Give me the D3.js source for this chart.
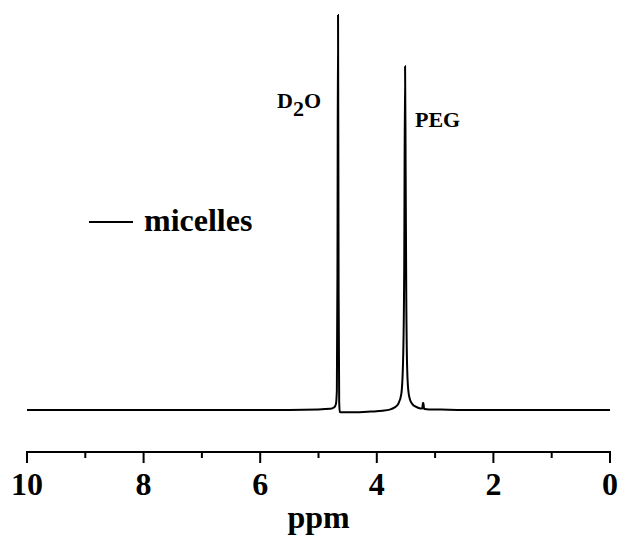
<!DOCTYPE html>
<html>
<head>
<meta charset="utf-8">
<script src="https://cdn.jsdelivr.net/npm/d3@7"></script>
<style>
  body { margin: 0; background: #fff; }
  text { font-family: "Liberation Serif", "Times New Roman", serif; font-weight: bold; fill: #000; }
</style>
</head>
<body>
<div id="chart"></div>
<script>
// chemical shift (ppm) and intensity
const ppm = [10, 6, 5.0, 4.8, 4.73, 4.7, 4.685, 4.675, 4.665, 4.655, 4.645, 4.635, 4.6, 4.4, 4.1, 3.9, 3.78, 3.7, 3.63, 3.58, 3.55, 3.53, 3.515, 3.505, 3.495, 3.48, 3.46, 3.43, 3.39, 3.34, 3.28, 3.22, 3.21, 3.2, 3.19, 3.18, 3.1, 2.9, 2.5, 0];
const intensity = [0, 0, 0.15, 0.3, 0.7, 1.6, 5, 35, 100, 30, 2, -0.5, -0.6, -0.6, -0.4, -0.2, 0.1, 0.6, 1.6, 4, 12, 35, 87, 60, 30, 11, 5, 2.6, 1.5, 0.9, 0.5, 0.35, 1.8, 1.8, 0.35, 0.25, 0.15, 0.1, 0, 0];
const xTicks = [10, 8, 6, 4, 2, 0];
const xMinorTicks = [9, 7, 5, 3, 1];
const peakLabels = ["D", "PEG"];
const legendLabel = "micelles";

const width = 620, height = 540;
const svg = d3.select("#chart").append("svg")
    .attr("width", width)
    .attr("height", height);

const x = d3.scaleLinear().domain([10, 0]).range([27, 610]);
const y = d3.scaleLinear().domain([0, 100]).range([410, 15]);
const axisY = 452;

const spectrum = ppm.map((p, i) => [p, intensity[i]]);

const line = d3.line()
    .x(d => x(d[0]))
    .y(d => y(d[1]))
    .curve(d3.curveMonotoneX);

svg.append("path")
    .datum(spectrum)
    .attr("d", line)
    .attr("fill", "none")
    .attr("stroke", "#000")
    .attr("stroke-width", 2);

// bottom axis
const axis = svg.append("g").attr("transform", `translate(0,${axisY})`);
axis.append("line")
    .attr("x1", x(10) - 1).attr("x2", x(0) + 1)
    .attr("stroke", "#000").attr("stroke-width", 2);
axis.selectAll(".major").data(xTicks).enter().append("line")
    .attr("x1", d => x(d)).attr("x2", d => x(d))
    .attr("y1", 0).attr("y2", 11)
    .attr("stroke", "#000").attr("stroke-width", 2);
axis.selectAll(".minor").data(xMinorTicks).enter().append("line")
    .attr("x1", d => x(d)).attr("x2", d => x(d))
    .attr("y1", 0).attr("y2", 6)
    .attr("stroke", "#000").attr("stroke-width", 2);
axis.selectAll(".lbl").data(xTicks).enter().append("text")
    .attr("x", d => x(d))
    .attr("y", 43)
    .attr("text-anchor", "middle")
    .style("font-size", "32px")
    .text(d => d);

svg.append("text")
    .attr("x", (x(10) + x(0)) / 2)
    .attr("y", 528)
    .attr("text-anchor", "middle")
    .style("font-size", "32px")
    .text("ppm");

// peak labels
const d2o = svg.append("text")
    .attr("x", 277)
    .attr("y", 108)
    .style("font-size", "22px");
d2o.append("tspan").text(peakLabels[0]);
d2o.append("tspan").attr("dy", 8).text("2");
d2o.append("tspan").attr("dy", -8).text("O");

svg.append("text")
    .attr("x", 415)
    .attr("y", 127)
    .style("font-size", "22px")
    .text(peakLabels[1]);

// legend
svg.append("line")
    .attr("x1", 89).attr("x2", 133)
    .attr("y1", 222).attr("y2", 222)
    .attr("stroke", "#000").attr("stroke-width", 2);
svg.append("text")
    .attr("x", 144)
    .attr("y", 231)
    .style("font-size", "32px")
    .text(legendLabel);
</script>
</body>
</html>
